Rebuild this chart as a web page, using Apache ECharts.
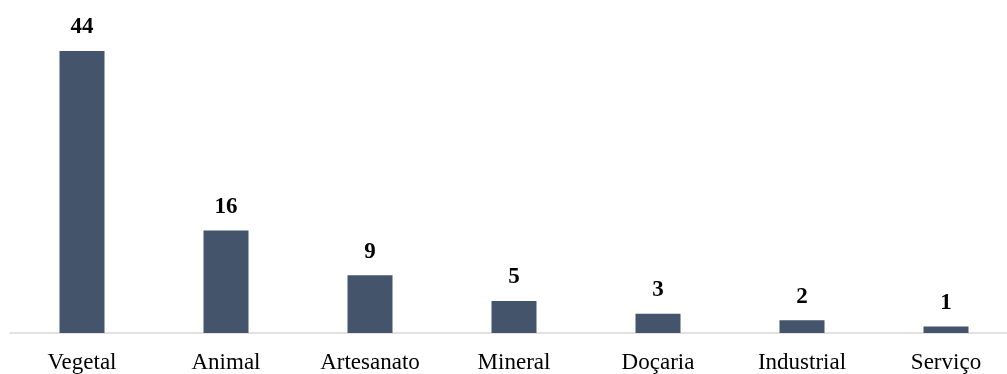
<!DOCTYPE html>
<html>
<head>
<meta charset="utf-8">
<script src="https://cdn.jsdelivr.net/npm/echarts@6/dist/echarts.min.js"></script>
<style>
  html, body { margin: 0; padding: 0; background: #fff; }
  #chart { width: 1007px; height: 374px; }
</style>
</head>
<body>
<div id="chart"></div>
<script>
// Número de produtos por tipo
const categories = ['Vegetal', 'Animal', 'Artesanato', 'Mineral', 'Doçaria', 'Industrial', 'Serviço'];
const counts = [44, 16, 9, 5, 3, 2, 1];

const chart = echarts.init(document.getElementById('chart'), null, { renderer: 'canvas' });
chart.setOption({
  animation: false,
  grid: { left: 10, width: 1008, top: 12.5, bottom: 41, containLabel: false, outerBoundsMode: 'none' },
  xAxis: {
    type: 'category',
    data: categories,
    axisLine: { lineStyle: { color: '#D9D9D9', width: 1.5 } },
    axisTick: { show: false },
    axisLabel: {
      color: '#000',
      fontFamily: 'Liberation Serif',
      fontSize: 23,
      margin: 18
    }
  },
  yAxis: {
    type: 'value',
    min: 0,
    max: 50,
    show: false,
    splitLine: { show: false }
  },
  series: [{
    type: 'bar',
    data: counts,
    barWidth: 45,
    itemStyle: { color: '#44546A' },
    label: {
      show: true,
      position: 'top',
      distance: 12,
      color: '#000',
      fontFamily: 'Liberation Serif',
      fontWeight: 'bold',
      fontSize: 23
    }
  }]
});
</script>
</body>
</html>
